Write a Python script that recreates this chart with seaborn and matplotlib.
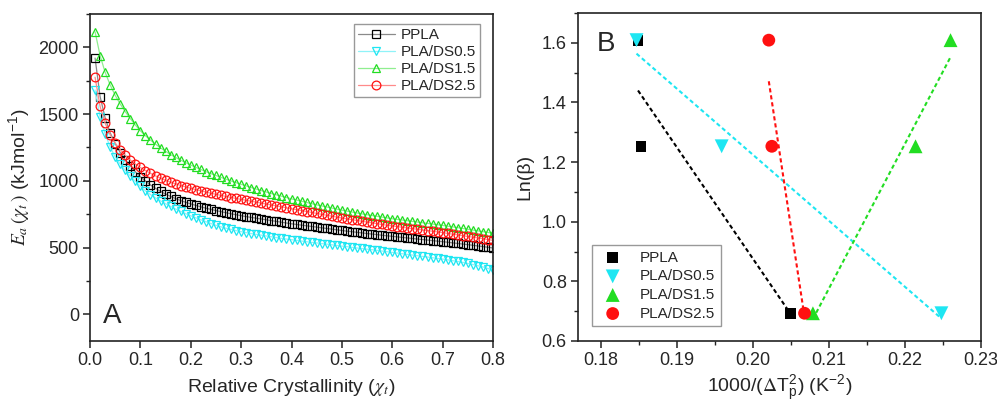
import matplotlib
matplotlib.use("Agg")
import matplotlib.pyplot as plt
from matplotlib.ticker import MultipleLocator, FormatStrFormatter
import numpy as np
import pandas as pd
import seaborn as sns

# ---- panel A: activation energy vs relative crystallinity ----
chi = np.round(np.arange(1, 81) * 0.01, 2)

ea_ppla = [1920, 1631, 1472, 1360, 1278, 1212, 1158, 1112, 1068, 1030,
           998, 969, 944, 921, 901, 883, 867, 852, 839, 827,
           816, 805, 795, 786, 777, 769, 761, 753, 746, 739,
           732, 726, 720, 714, 708, 702, 696, 690, 684, 678,
           673, 668, 663, 658, 653, 648, 643, 638, 633, 628,
           623, 619, 614, 610, 605, 601, 597, 592, 588, 584,
           580, 576, 572, 568, 564, 560, 556, 552, 548, 544,
           540, 535, 531, 526, 522, 517, 512, 507, 502, 497]
ea_ds05 = [1681, 1477, 1352, 1253, 1178, 1125, 1078, 1036, 996, 958,
           925, 897, 872, 850, 829, 808, 789, 771, 754, 738,
           723, 708, 694, 680, 667, 655, 645, 636, 627, 619,
           612, 605, 599, 593, 587, 581, 575, 569, 564, 559,
           554, 549, 544, 539, 535, 530, 526, 521, 516, 511,
           507, 502, 497, 493, 488, 484, 479, 474, 469, 464,
           459, 454, 449, 444, 439, 434, 429, 424, 419, 414,
           408, 402, 396, 389, 381, 373, 364, 355, 343, 331]
ea_ds15 = [2117, 1938, 1813, 1718, 1640, 1575, 1518, 1466, 1418, 1375,
           1338, 1305, 1275, 1247, 1221, 1197, 1175, 1155, 1136, 1118,
           1101, 1085, 1069, 1054, 1040, 1026, 1012, 999, 986, 974,
           962, 950, 938, 927, 916, 905, 895, 885, 875, 865,
           856, 847, 838, 829, 820, 812, 804, 796, 788, 780,
           773, 766, 759, 752, 746, 740, 734, 728, 722, 716,
           711, 706, 701, 696, 691, 686, 681, 676, 671, 666,
           660, 655, 649, 643, 637, 631, 625, 619, 613, 607]
ea_ds25 = [1776, 1557, 1432, 1345, 1283, 1233, 1191, 1156, 1126, 1100,
           1077, 1056, 1037, 1020, 1004, 990, 977, 965, 954, 944,
           934, 925, 916, 907, 899, 891, 883, 875, 868, 861,
           854, 847, 840, 833, 826, 819, 812, 805, 798, 791,
           784, 777, 770, 763, 756, 749, 742, 735, 728, 721,
           715, 709, 703, 697, 691, 685, 679, 673, 667, 662,
           657, 652, 647, 642, 637, 632, 627, 622, 617, 612,
           606, 600, 595, 589, 583, 578, 572, 566, 560, 554]

# ---- panel B: ln(beta) vs 1000/dT^2 ----
ln_beta = [1.609, 1.253, 0.693]
inv_ppla = [0.1849, 0.1853, 0.2050]
inv_ds05 = [0.1847, 0.1959, 0.2248]
inv_ds15 = [0.2260, 0.2214, 0.2079]
inv_ds25 = [0.2021, 0.2025, 0.2068]

labels = ["PPLA", "PLA/DS0.5", "PLA/DS1.5", "PLA/DS2.5"]
colors = ["#000000", "#1ee6f2", "#22dd22", "#ff1010"]
line_colors = ["#8a8a8a", "#8ff3f8", "#8fee8f", "#ff8a8a"]
markers_a = ["s", "v", "^", "o"]

sns.set_theme(style="ticks")
plt.rcParams["font.family"] = ["Liberation Sans", "DejaVu Sans"]
plt.rcParams["mathtext.fontset"] = "stix"
plt.rcParams["axes.edgecolor"] = "#222222"
plt.rcParams["axes.linewidth"] = 1.2

fig = plt.figure(figsize=(9.97, 4.07), dpi=100)
ax1 = fig.add_axes([0.0903, 0.1622, 0.4042, 0.8034])
ax2 = fig.add_axes([0.5797, 0.1622, 0.4042, 0.8058])

series_a = [ea_ppla, ea_ds05, ea_ds15, ea_ds25]
for vals, lab, c, lc, m in zip(series_a, labels, colors, line_colors, markers_a):
    df = pd.DataFrame({"chi": chi, "ea": vals})
    sns.lineplot(data=df, x="chi", y="ea", ax=ax1, color=lc, lw=0.9,
                 marker=m, markersize=6.3, markerfacecolor="none",
                 markeredgecolor=c, markeredgewidth=0.9, label=lab)

ax1.set_xlim(0, 0.8)
ax1.set_ylim(-200, 2250)
ax1.xaxis.set_major_locator(MultipleLocator(0.1))
ax1.xaxis.set_major_formatter(FormatStrFormatter("%.1f"))
ax1.yaxis.set_major_locator(MultipleLocator(500))
ax1.yaxis.set_minor_locator(MultipleLocator(250))
ax1.set_xlabel(r"Relative Crystallinity ($\chi_t$)", fontsize=14, labelpad=6)
ax1.set_ylabel(r"$E_a\,(\chi_t\,)$ (kJmol$^{\mathregular{-1}}$)", fontsize=14, labelpad=4)
ax1.text(0.032, 0.076, "A", transform=ax1.transAxes, fontsize=20, va="center", ha="left")
ax1.legend(loc="upper right", bbox_to_anchor=(0.967, 0.968), borderaxespad=0,
           fontsize=11, handlelength=2.4, handletextpad=0.4, labelspacing=0.2,
           fancybox=False, edgecolor="#999999", framealpha=1, borderpad=0.25)

# panel B scatter + linear fits
series_b = [inv_ppla, inv_ds05, inv_ds15, inv_ds25]
markers_b = ["s", "v", "^", "o"]
sizes_b = [60, 100, 100, 85]
for xs, lab, c, m, s in zip(series_b, labels, colors, markers_b, sizes_b):
    df = pd.DataFrame({"inv": xs, "lnb": ln_beta})
    sns.regplot(data=df, x="inv", y="lnb", ax=ax2, scatter=False, ci=None,
                color=c, line_kws={"ls": (0, (2, 1.4)), "lw": 1.5})
for xs, lab, c, m, s in zip(series_b, labels, colors, markers_b, sizes_b):
    df = pd.DataFrame({"inv": xs, "lnb": ln_beta})
    sns.scatterplot(data=df, x="inv", y="lnb", ax=ax2, color=c, marker=m, s=s,
                    edgecolor="none", label=lab, zorder=3)

ax2.set_xlim(0.177, 0.23)
ax2.set_ylim(0.6, 1.7)
ax2.xaxis.set_major_locator(MultipleLocator(0.01))
ax2.xaxis.set_minor_locator(MultipleLocator(0.005))
ax2.xaxis.set_major_formatter(FormatStrFormatter("%.2f"))
ax2.yaxis.set_major_locator(MultipleLocator(0.2))
ax2.yaxis.set_minor_locator(MultipleLocator(0.1))
ax2.yaxis.set_major_formatter(FormatStrFormatter("%.1f"))
ax2.set_xlabel(r"1000/($\Delta$T$_{\mathregular{p}}^{\mathregular{2}}$) (K$^{\mathregular{-2}}$)",
               fontsize=14, labelpad=2)
ax2.set_ylabel("Ln(β)", fontsize=14, labelpad=6)
ax2.text(0.047, 0.905, "B", transform=ax2.transAxes, fontsize=20, va="center", ha="left")
ax2.legend(loc="lower left", bbox_to_anchor=(0.035, 0.046), borderaxespad=0,
           fontsize=11, handletextpad=0.8, labelspacing=0.3, borderpad=0.35,
           fancybox=False, edgecolor="#999999", framealpha=1)

for ax in (ax1, ax2):
    ax.tick_params(axis="both", which="major", direction="out", length=5, width=1.1,
                   labelsize=13, color="#222222", pad=3)
    ax.tick_params(axis="both", which="minor", direction="out", length=3, width=1.0,
                   color="#222222")
    for sp in ax.spines.values():
        sp.set_visible(True)
    ax.grid(False)

fig.savefig("out.png", dpi=100)
